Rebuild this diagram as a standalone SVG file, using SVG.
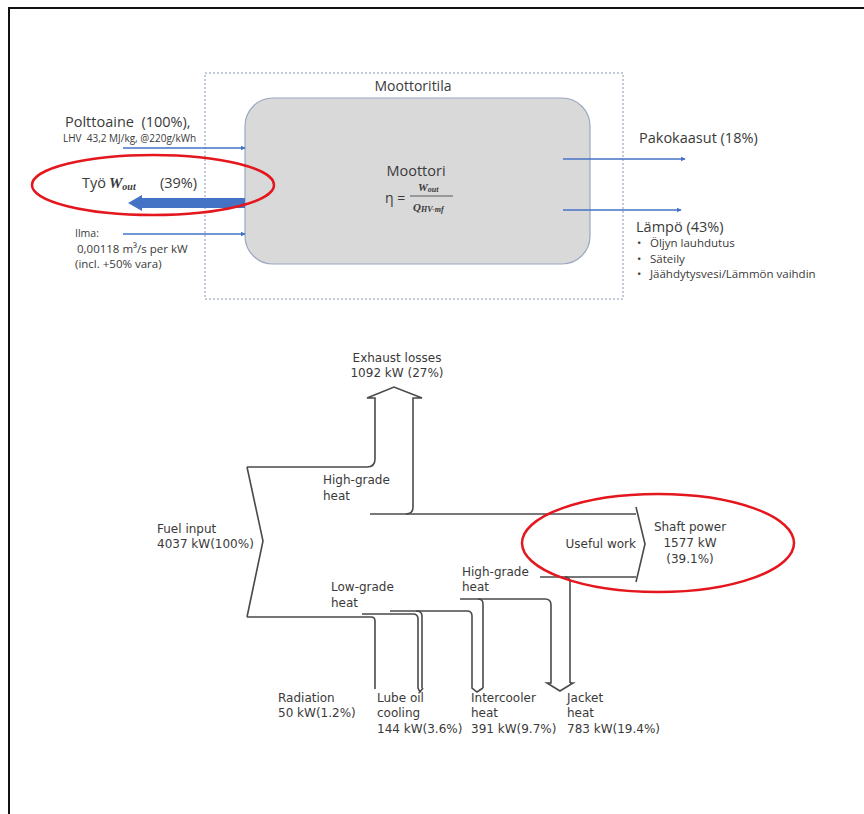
<svg xmlns="http://www.w3.org/2000/svg" width="864" height="814" viewBox="0 0 864 814">
  <defs>
    <marker id="blueHead" viewBox="0 0 8 8" refX="7" refY="4" markerWidth="5" markerHeight="5" orient="auto" markerUnits="userSpaceOnUse">
      <path d="M0,0 L8,4 L0,8 Z" fill="#4472c4"/>
    </marker>
    <style>
      .top { font-family: "Open Sans", "Liberation Sans", sans-serif; fill: #3a3a3a; }
      .math { font-family: "Liberation Serif", serif; font-style: italic; font-weight: bold; fill: #3a3a3a; }
      .sk { font-family: "DejaVu Sans", sans-serif; font-size: 12px; fill: #3a3a3a; }
      .flow { fill: none; stroke: #4a4a4a; stroke-width: 1.6; }
      .thin { fill: none; stroke: #4472c4; stroke-width: 1.6; }
      .mark { fill: none; stroke: #e3171d; stroke-width: 2.5; }
    </style>
  </defs>

  <rect width="864" height="814" fill="#ffffff"/>
  <!-- page frame -->
  <rect x="9" y="8" width="880" height="840" fill="none" stroke="#111" stroke-width="2"/>

  <!-- engine room (dashed boundary) -->
  <g id="moottoritila">
    <rect x="205" y="73" width="418" height="226" fill="none" stroke="#8497b0" stroke-width="1" stroke-dasharray="2 2"/>
    <text class="top" x="413" y="91" font-size="14" text-anchor="middle">Moottoritila</text>
  </g>

  <!-- engine -->
  <g id="moottori">
    <rect x="245" y="98" width="345" height="166" rx="28" fill="#d9d9d9" stroke="#9aa8c0" stroke-width="1.2"/>
    <text class="top" x="416" y="176" font-size="14.5" text-anchor="middle">Moottori</text>
    <text class="top" x="385" y="203" font-size="14">η =</text>
    <text class="math" x="418" y="191" font-size="11">W<tspan font-size="8" dy="1">out</tspan></text>
    <line x1="410" y1="196" x2="453" y2="196" stroke="#3a3a3a" stroke-width="0.8"/>
    <text class="math" x="413" y="211" font-size="11">Q<tspan font-size="8" dy="1">HV-mf</tspan></text>
  </g>

  <!-- inputs and outputs of the engine -->
  <g id="polttoaine">
    <text class="top" x="65" y="127" font-size="14.5" style="white-space:pre">Polttoaine  (100%),</text>
    <text class="top" x="63" y="142" font-size="10" style="white-space:pre">LHV  43,2 MJ/kg, @220g/kWh</text>
  </g>
  <g id="tyo">
    <text class="top" x="82" y="188" font-size="14.5">Työ</text>
    <text class="math" x="109" y="188" font-size="15">W<tspan font-size="10" dy="2">out</tspan></text>
    <text class="top" x="160" y="188" font-size="14.5">(39%)</text>
  </g>
  <g id="ilma">
    <text class="top" x="75" y="237" font-size="10.5">Ilma:</text>
    <text class="top" x="77" y="253" font-size="11.5">0,00118 m³/s per kW</text>
    <text class="top" x="75" y="268" font-size="11.5">(incl. +50% vara)</text>
  </g>
  <g id="pakokaasut">
    <text class="top" x="639" y="143" font-size="14.5">Pakokaasut (18%)</text>
  </g>
  <g id="lampo">
    <text class="top" x="636" y="232" font-size="14.5">Lämpö (43%)</text>
    <text class="top" x="637" y="247" font-size="11.5">•</text>
    <text class="top" x="650" y="247" font-size="11.5">Öljyn lauhdutus</text>
    <text class="top" x="637" y="263" font-size="11.5">•</text>
    <text class="top" x="650" y="263" font-size="11.5">Säteily</text>
    <text class="top" x="637" y="278" font-size="11.5">•</text>
    <text class="top" x="650" y="278" font-size="11.5">Jäähdytysvesi/Lämmön vaihdin</text>
  </g>

  <g id="engine-connectors">
    <line class="thin" x1="123" y1="148" x2="245" y2="148" marker-end="url(#blueHead)"/>
    <line class="thin" x1="123" y1="234" x2="245" y2="234" marker-end="url(#blueHead)"/>
    <line class="thin" x1="563" y1="159" x2="685" y2="159" marker-end="url(#blueHead)"/>
    <line class="thin" x1="563" y1="210" x2="681" y2="210" marker-end="url(#blueHead)"/>
    <!-- work output -->
    <rect x="141" y="198" width="104" height="10" fill="#4472c4"/>
    <path d="M142,195 L128,203 L142,211 Z" fill="#4472c4"/>
  </g>

  <!-- energy flow (Sankey) labels -->
  <g id="exhaust">
    <text class="sk" x="397" y="362" text-anchor="middle">Exhaust losses</text>
    <text class="sk" x="397" y="377" text-anchor="middle">1092 kW (27%)</text>
  </g>
  <g id="high-grade-1">
    <text class="sk" x="323" y="484">High-grade</text>
    <text class="sk" x="323" y="500">heat</text>
  </g>
  <g id="fuel-input">
    <text class="sk" x="157" y="533">Fuel input</text>
    <text class="sk" x="157" y="548">4037 kW(100%)</text>
  </g>
  <g id="useful-work">
    <text class="sk" x="636" y="548" text-anchor="end">Useful work</text>
  </g>
  <g id="shaft-power">
    <text class="sk" x="690" y="531" text-anchor="middle">Shaft power</text>
    <text class="sk" x="690" y="547" text-anchor="middle">1577 kW</text>
    <text class="sk" x="690" y="563" text-anchor="middle">(39.1%)</text>
  </g>
  <g id="low-grade">
    <text class="sk" x="331" y="591">Low-grade</text>
    <text class="sk" x="331" y="607">heat</text>
  </g>
  <g id="high-grade-2">
    <text class="sk" x="462" y="576">High-grade</text>
    <text class="sk" x="462" y="591">heat</text>
  </g>
  <g id="radiation">
    <text class="sk" x="278" y="702">Radiation</text>
    <text class="sk" x="278" y="717">50 kW(1.2%)</text>
  </g>
  <g id="lube-oil">
    <text class="sk" x="377" y="702">Lube oil</text>
    <text class="sk" x="377" y="717">cooling</text>
    <text class="sk" x="377" y="733">144 kW(3.6%)</text>
  </g>
  <g id="intercooler">
    <text class="sk" x="471" y="702">Intercooler</text>
    <text class="sk" x="471" y="717">heat</text>
    <text class="sk" x="471" y="733">391 kW(9.7%)</text>
  </g>
  <g id="jacket">
    <text class="sk" x="567" y="702">Jacket</text>
    <text class="sk" x="567" y="717">heat</text>
    <text class="sk" x="567" y="733">783 kW(19.4%)</text>
  </g>

  <!-- flow band outlines -->
  <g id="flow-connectors">
    <!-- fuel input notch -->
    <path class="flow" d="M247,467 L263,541 L247,617"/>
    <!-- exhaust band -->
    <path class="flow" d="M247,467 H367 Q375,467 375,459 V398 H367 L394,387 L422,398 H413 V507 Q413,514 406,514"/>
    <!-- useful work band -->
    <path class="flow" d="M370,514 H636"/>
    <path class="flow" d="M540,577 H636"/>
    <path class="flow" d="M636,507 L645,544 L636,582"/>
    <!-- radiation -->
    <path class="flow" d="M247,617 H371 Q375,617 375,621 V689" stroke="#222" stroke-width="2.2"/>
    <!-- lube oil -->
    <path class="flow" d="M362,614 H413 Q418,614 418,619 V688 L420,692 L423,688"/>
    <path class="flow" d="M416,611 Q422,611 422,616 V688"/>
    <!-- intercooler -->
    <path class="flow" d="M390,611 H467 Q472,611 472,616 V688 L477,692 L483,688"/>
    <path class="flow" d="M478,599 Q483,599 483,604 V688"/>
    <!-- jacket -->
    <path class="flow" d="M460,599 H545 Q551,599 551,605 V683 H547 L560,691 L573,683 H570"/>
    <path class="flow" d="M565,577 Q570,577 570,582 V683"/>
  </g>

  <!-- highlight marks -->
  <g id="highlights">
    <ellipse class="mark" cx="153" cy="185" rx="121" ry="30"/>
    <ellipse class="mark" cx="658" cy="543" rx="136" ry="49"/>
  </g>
</svg>
